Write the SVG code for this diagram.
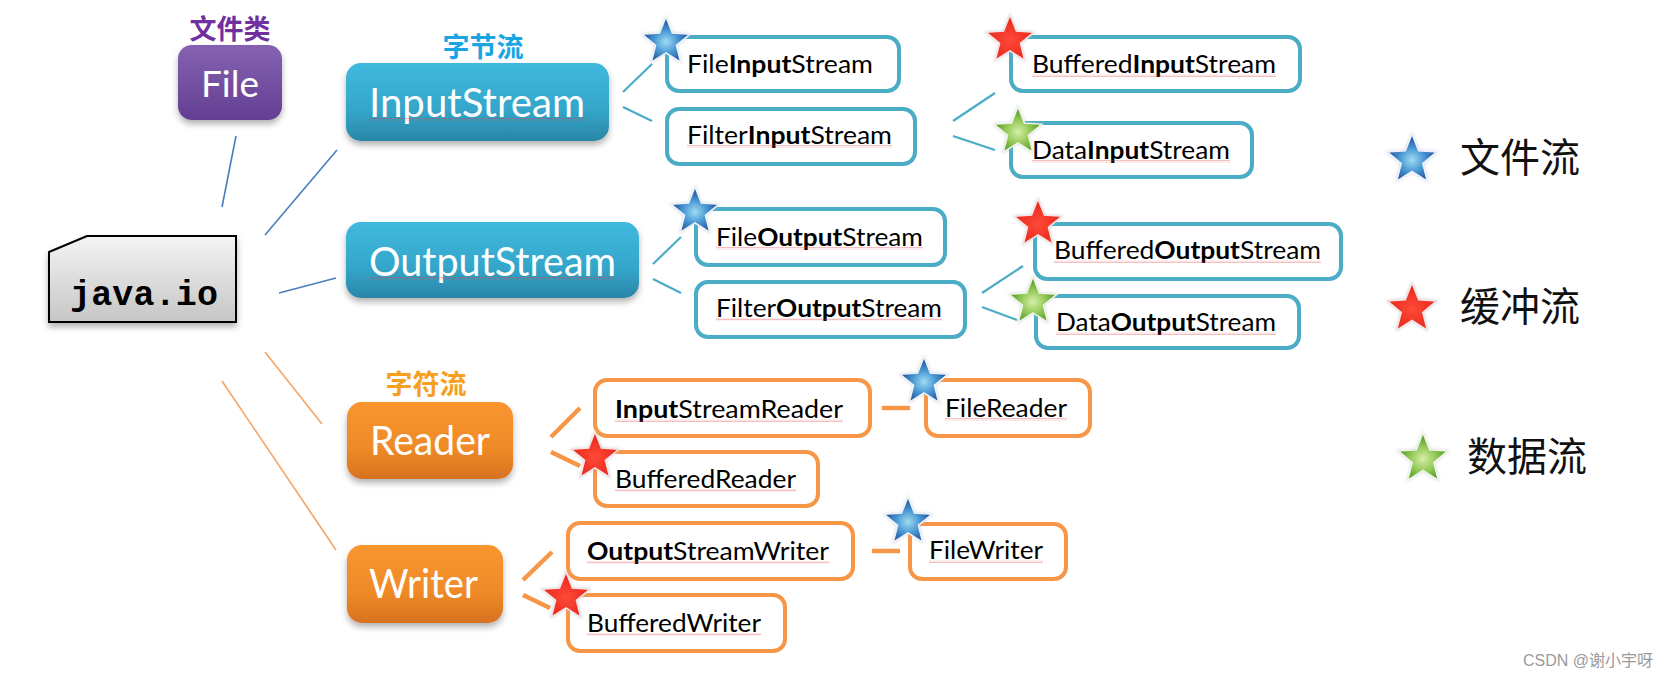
<svg xmlns="http://www.w3.org/2000/svg" width="1675" height="675" viewBox="0 0 1675 675">
<defs>
<linearGradient id="gBlue" x1="0" y1="0" x2="0" y2="1"><stop offset="0" stop-color="#40b9de"/><stop offset="0.6" stop-color="#34a6ca"/><stop offset="1" stop-color="#2a86a7"/></linearGradient>
<linearGradient id="gOrange" x1="0" y1="0" x2="0" y2="1"><stop offset="0" stop-color="#f9962f"/><stop offset="0.6" stop-color="#ef8a28"/><stop offset="1" stop-color="#d6721f"/></linearGradient>
<linearGradient id="gPurple" x1="0" y1="0" x2="0" y2="1"><stop offset="0" stop-color="#8562b1"/><stop offset="1" stop-color="#633e92"/></linearGradient>
<linearGradient id="gGray" x1="0" y1="0" x2="0" y2="1"><stop offset="0" stop-color="#f4f4f4"/><stop offset="1" stop-color="#c6c6c6"/></linearGradient>
<radialGradient id="sBlue" cx="0.5" cy="0.55" r="0.55"><stop offset="0" stop-color="#9fdcf3"/><stop offset="0.45" stop-color="#4a98d4"/><stop offset="1" stop-color="#143f8c"/></radialGradient>
<radialGradient id="sRed" cx="0.5" cy="0.55" r="0.55"><stop offset="0" stop-color="#ff4a38"/><stop offset="1" stop-color="#e5241a"/></radialGradient>
<radialGradient id="sGreen" cx="0.5" cy="0.55" r="0.55"><stop offset="0" stop-color="#d6efa6"/><stop offset="0.5" stop-color="#8fc654"/><stop offset="1" stop-color="#3f8a18"/></radialGradient>
<filter id="shadow" x="-10%" y="-10%" width="120%" height="130%"><feDropShadow dx="0" dy="4" stdDeviation="3" flood-color="#000" flood-opacity="0.3"/></filter>
<filter id="glow" x="-30%" y="-30%" width="160%" height="160%"><feDropShadow dx="0" dy="0" stdDeviation="1.5" flood-color="#b0b8c8" flood-opacity="0.6"/></filter>
<pattern id="sq" width="4" height="3" patternUnits="userSpaceOnUse"><path d="M0,2.4 L1,0.6 L2,2.4 L3,0.6 L4,2.4" fill="none" stroke="#e23a3a" stroke-width="0.6" stroke-opacity="0.55"/></pattern>
<path id="star" d="M0,-25 L6.43,-8.85 L23.78,-7.73 L10.41,3.38 L14.7,20.23 L0,10.94 L-14.7,20.23 L-10.41,3.38 L-23.78,-7.73 L-6.43,-8.85 Z"/>
</defs>
<style>
.main{font-family:Lato,"Liberation Sans",sans-serif;fill:#fff;}
.lbl{font-family:Lato,"Liberation Sans",sans-serif;font-size:25px;fill:#000;}
.b{font-weight:bold;}
.cat{font-family:"Noto Sans CJK SC",sans-serif;font-weight:bold;font-size:27px;}
.leg{font-family:"Noto Sans CJK SC",sans-serif;font-size:40px;fill:#111;}
.tb{fill:#fff;stroke:#4bacc6;stroke-width:4;}
.ob{fill:#fff;stroke:#f79646;stroke-width:4;}
.cb{stroke:#4a7ebb;stroke-width:1.6;fill:none;}
.co{stroke:#f3a468;stroke-width:1.6;fill:none;}
.ct{stroke:#4bacc6;stroke-width:2.2;fill:none;}
.cot{stroke:#f79646;stroke-width:4.5;fill:none;}
.sq{fill:url(#sq);}
.stB{fill:url(#sBlue);stroke:#eef2fa;stroke-width:1.5;filter:url(#glow);}
.stR{fill:url(#sRed);stroke:#f6e4e4;stroke-width:1.5;filter:url(#glow);}
.stG{fill:url(#sGreen);stroke:#eef4e6;stroke-width:1.5;filter:url(#glow);}
</style>
<rect width="1675" height="675" fill="#fff"/>

<g id="connectors">
<line class="cb" x1="222" y1="207" x2="236" y2="136"/>
<line class="cb" x1="265" y1="235" x2="337" y2="150"/>
<line class="cb" x1="279" y1="293" x2="336" y2="278"/>
<line class="co" x1="265" y1="352" x2="322" y2="424"/>
<line class="co" x1="222" y1="381" x2="336" y2="550"/>
<line class="ct" x1="623" y1="92" x2="652" y2="64"/>
<line class="ct" x1="623" y1="107" x2="652" y2="121"/>
<line class="ct" x1="653" y1="264" x2="681" y2="237"/>
<line class="ct" x1="653" y1="279" x2="681" y2="293"/>
<line class="ct" x1="953" y1="121" x2="995" y2="93"/>
<line class="ct" x1="953" y1="136" x2="995" y2="150"/>
<line class="ct" x1="982" y1="293" x2="1023" y2="266"/>
<line class="ct" x1="982" y1="307" x2="1017" y2="320"/>
<line class="cot" x1="551" y1="437" x2="580" y2="408"/>
<line class="cot" x1="551" y1="452" x2="580" y2="466"/>
<line class="cot" x1="523" y1="580" x2="552" y2="552"/>
<line class="cot" x1="523" y1="595" x2="550" y2="608"/>
<line class="cot" x1="882" y1="408" x2="910" y2="408"/>
<line class="cot" x1="872" y1="551" x2="900" y2="551"/>
</g>

<g id="javaio">
<polygon points="49,252 87,236 236,236 236,322 49,322" fill="url(#gGray)" stroke="#000" stroke-width="2" filter="url(#shadow)"/>
<text x="70" y="305" font-family="'Liberation Mono',monospace" font-weight="bold" font-size="35" textLength="148" fill="#000">java.io</text>
</g>

<g id="file">
<text class="cat" x="230" y="39" text-anchor="middle" fill="#7030a0">文件类</text>
<rect x="178" y="45" width="104" height="75" rx="14" fill="url(#gPurple)" filter="url(#shadow)"/>
<text class="main" x="230" y="97" text-anchor="middle" font-size="37">File</text>
</g>

<g id="inputstream">
<text class="cat" x="483" y="57" text-anchor="middle" fill="#1aa5e2">字节流</text>
<rect x="346" y="63" width="263" height="78" rx="15" fill="url(#gBlue)" filter="url(#shadow)"/>
<text class="main" x="369" y="117" font-size="40" textLength="216" lengthAdjust="spacingAndGlyphs">InputStream</text>
<rect class="sq" x="369" y="118" width="216" height="3"/>
</g>

<g id="outputstream">
<rect x="346" y="222" width="293" height="76" rx="15" fill="url(#gBlue)" filter="url(#shadow)"/>
<text class="main" x="369" y="276" font-size="40" textLength="247" lengthAdjust="spacingAndGlyphs">OutputStream</text>
<rect class="sq" x="369" y="277" width="247" height="3"/>
</g>

<g id="reader">
<text class="cat" x="426" y="394" text-anchor="middle" fill="#f5a01e">字符流</text>
<rect x="347" y="402" width="166" height="77" rx="15" fill="url(#gOrange)" filter="url(#shadow)"/>
<text class="main" x="370" y="455" font-size="40" textLength="120" lengthAdjust="spacingAndGlyphs">Reader</text>
</g>

<g id="writer">
<rect x="347" y="545" width="156" height="78" rx="15" fill="url(#gOrange)" filter="url(#shadow)"/>
<text class="main" x="369" y="598" font-size="40" textLength="109" lengthAdjust="spacingAndGlyphs">Writer</text>
</g>

<g id="fileinputstream">
<rect class="tb" x="667" y="37" width="232" height="54" rx="12"/>
<text class="lbl" x="687" y="73" textLength="186" lengthAdjust="spacingAndGlyphs">File<tspan class="b">Input</tspan>Stream</text>
<use href="#star" class="stB" transform="translate(666,42)"/>
</g>

<g id="filterinputstream">
<rect class="tb" x="667" y="109" width="248" height="55" rx="12"/>
<text class="lbl" x="687" y="144" textLength="205" lengthAdjust="spacingAndGlyphs">Filter<tspan class="b">Input</tspan>Stream</text>
<rect class="sq" x="687" y="145" width="205" height="3"/>
</g>

<g id="fileoutputstream">
<rect class="tb" x="696" y="209" width="249" height="56" rx="12"/>
<text class="lbl" x="716" y="246" textLength="207" lengthAdjust="spacingAndGlyphs">File<tspan class="b">Output</tspan>Stream</text>
<rect class="sq" x="716" y="247" width="207" height="3"/>
<use href="#star" class="stB" transform="translate(695,212)"/>
</g>

<g id="filteroutputstream">
<rect class="tb" x="696" y="282" width="269" height="55" rx="12"/>
<text class="lbl" x="716" y="317" textLength="226" lengthAdjust="spacingAndGlyphs">Filter<tspan class="b">Output</tspan>Stream</text>
<rect class="sq" x="716" y="318" width="226" height="3"/>
</g>

<g id="bufferedinputstream">
<rect class="tb" x="1011" y="37" width="289" height="54" rx="12"/>
<text class="lbl" x="1032" y="73" textLength="244" lengthAdjust="spacingAndGlyphs">Buffered<tspan class="b">Input</tspan>Stream</text>
<rect class="sq" x="1032" y="74" width="244" height="3"/>
<use href="#star" class="stR" transform="translate(1010,40)"/>
</g>

<g id="datainputstream">
<rect class="tb" x="1011" y="123" width="241" height="54" rx="12"/>
<text class="lbl" x="1032" y="159" textLength="198" lengthAdjust="spacingAndGlyphs">Data<tspan class="b">Input</tspan>Stream</text>
<rect class="sq" x="1032" y="160" width="198" height="3"/>
<use href="#star" class="stG" transform="translate(1018,132)"/>
</g>

<g id="bufferedoutputstream">
<rect class="tb" x="1035" y="224" width="306" height="55" rx="12"/>
<text class="lbl" x="1054" y="259" textLength="267" lengthAdjust="spacingAndGlyphs">Buffered<tspan class="b">Output</tspan>Stream</text>
<rect class="sq" x="1054" y="260" width="267" height="3"/>
<use href="#star" class="stR" transform="translate(1038,224)"/>
</g>

<g id="dataoutputstream">
<rect class="tb" x="1036" y="296" width="263" height="52" rx="12"/>
<text class="lbl" x="1056" y="331" textLength="220" lengthAdjust="spacingAndGlyphs">Data<tspan class="b">Output</tspan>Stream</text>
<rect class="sq" x="1056" y="332" width="220" height="3"/>
<use href="#star" class="stG" transform="translate(1033,302)"/>
</g>

<g id="inputstreamreader">
<rect class="ob" x="595" y="380" width="275" height="56" rx="12"/>
<text class="lbl" x="615" y="418" textLength="228" lengthAdjust="spacingAndGlyphs"><tspan class="b">Input</tspan>StreamReader</text>
<rect class="sq" x="615" y="419" width="228" height="3"/>
</g>

<g id="bufferedreader">
<rect class="ob" x="595" y="452" width="223" height="54" rx="12"/>
<text class="lbl" x="615" y="488" textLength="181" lengthAdjust="spacingAndGlyphs">BufferedReader</text>
<rect class="sq" x="615" y="489" width="181" height="3"/>
<use href="#star" class="stR" transform="translate(595,457)"/>
</g>

<g id="outputstreamwriter">
<rect class="ob" x="568" y="523" width="285" height="56" rx="12"/>
<text class="lbl" x="587" y="560" textLength="242" lengthAdjust="spacingAndGlyphs"><tspan class="b">Output</tspan>StreamWriter</text>
<rect class="sq" x="587" y="561" width="242" height="3"/>
</g>

<g id="bufferedwriter">
<rect class="ob" x="568" y="595" width="217" height="56" rx="12"/>
<text class="lbl" x="587" y="632" textLength="174" lengthAdjust="spacingAndGlyphs">BufferedWriter</text>
<rect class="sq" x="587" y="633" width="174" height="3"/>
<use href="#star" class="stR" transform="translate(566,597)"/>
</g>

<g id="filereader">
<rect class="ob" x="926" y="380" width="164" height="56" rx="12"/>
<text class="lbl" x="945" y="417" textLength="122" lengthAdjust="spacingAndGlyphs">FileReader</text>
<rect class="sq" x="945" y="418" width="122" height="3"/>
<use href="#star" class="stB" transform="translate(924,382)"/>
</g>

<g id="filewriter">
<rect class="ob" x="910" y="524" width="156" height="55" rx="12"/>
<text class="lbl" x="929" y="559" textLength="114" lengthAdjust="spacingAndGlyphs">FileWriter</text>
<rect class="sq" x="929" y="560" width="114" height="3"/>
<use href="#star" class="stB" transform="translate(908,522)"/>
</g>

<g id="legend">
<use href="#star" class="stB" transform="translate(1412,160) scale(1.04)"/>
<text class="leg" x="1460" y="172">文件流</text>
<use href="#star" class="stR" transform="translate(1412,309) scale(1.04)"/>
<text class="leg" x="1460" y="321">缓冲流</text>
<use href="#star" class="stG" transform="translate(1423,459) scale(1.04)"/>
<text class="leg" x="1467" y="471">数据流</text>
</g>

<text x="1523" y="666" font-family="'Liberation Sans','Noto Sans CJK SC',sans-serif" font-size="16" fill="#9a9a9a">CSDN @谢小宇呀</text>
</svg>
